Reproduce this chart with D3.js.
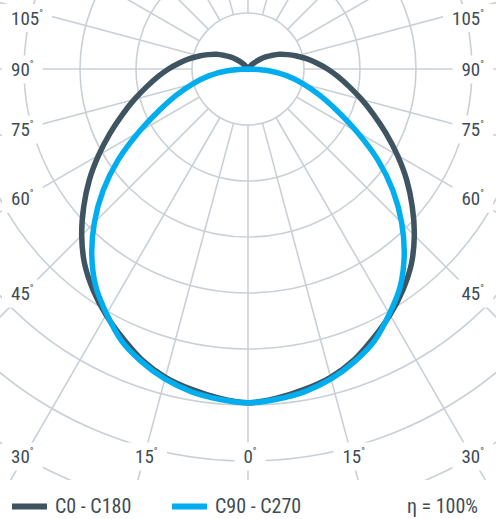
<!DOCTYPE html>
<html>
<head>
<meta charset="utf-8">
<script src="https://cdn.jsdelivr.net/npm/d3@7"></script>
<style>
  body { margin: 0; background: #fff; }
  text { font-family: "Liberation Sans Narrow", "Roboto Condensed", Roboto, sans-serif; fill: #3e4c56; }
</style>
</head>
<body>
<div id="chart"></div>
<script>
// ----------------------------DATA-------------------------------//
const gammaAngles = [0, 5, 10, 15, 20, 25, 30, 35, 40, 45, 50, 55, 60, 65, 70, 75, 80, 85, 90,
  95, 100, 105, 110, 115, 120, 125, 130, 135, 140, 145, 150, 155, 160, 165, 170, 175, 180];
// cd/klm
const c0c180 = [298, 295, 290.5, 285, 276.5, 265, 253.5, 241, 227, 210, 191.5, 173, 154, 136, 119.5, 105, 92, 81, 71,
  61.5, 53, 45, 37.5, 31, 24, 18.5, 12.5, 7.5, 3.5, 0, 0, 0, 0, 0, 0, 0, 0];
const c90c270 = [298, 296, 292.5, 286.5, 278, 267.5, 252.5, 237, 217, 194, 169, 141.5, 112.5, 87.5, 68, 51, 35.5, 18.5, 0,
  0, 0, 0, 0, 0, 0, 0, 0, 0, 0, 0, 0, 0, 0, 0, 0, 0, 0];
const ringValues = [50, 100, 150, 200, 250, 300, 350, 400, 450];
const tickAngles = [0, 15, 30, 45, 60, 75, 90, 105];
const seriesNames = ['C0 - C180', 'C90 - C270'];
const efficiencyLabel = 'η = 100%';

const width = 496;
const height = 519;
const cx = 248;
const cy = 69;
const plotBottom = 480;
const darkColor = '#3e5460';
const blueColor = '#00aeef';
const gridColor = '#c9d1d7';

const svg = d3.select('#chart').append('svg')
  .attr('width', width)
  .attr('height', height);

svg.append('clipPath').attr('id', 'plotClip')
  .append('rect')
  .attr('x', 0).attr('y', 0)
  .attr('width', width).attr('height', plotBottom);

// ----------------------------SCALES-----------------------------//
const rScale = d3.scaleLinear().domain([0, 50]).range([0, 56]);
const rad = d => d * Math.PI / 180;

const plot = svg.append('g')
  .attr('clip-path', 'url(#plotClip)');

const g = plot.append('g')
  .attr('transform', `translate(${cx},${cy})`);

// -----------------------------GRID------------------------------//
g.selectAll('circle.ring')
  .data(ringValues)
  .enter()
  .append('circle')
  .attr('class', 'ring')
  .attr('r', d => rScale(d))
  .attr('fill', 'none')
  .attr('stroke', gridColor)
  .attr('stroke-width', 1.6);

g.selectAll('line.ray')
  .data(d3.range(0, 360, 15))
  .enter()
  .append('line')
  .attr('class', 'ray')
  .attr('x1', d => rScale(50) * Math.sin(rad(d)))
  .attr('y1', d => rScale(50) * Math.cos(rad(d)))
  .attr('x2', d => rScale(600) * Math.sin(rad(d)))
  .attr('y2', d => rScale(600) * Math.cos(rad(d)))
  .attr('stroke', gridColor)
  .attr('stroke-width', 1.6);

// ----------------------------LABELS-----------------------------//
const sideDx = 224;
const labelTop = 17.5;
const labelBottom = 456;
const labelData = [];
tickAngles.forEach(a => {
  [-1, 1].forEach(side => {
    if (a === 0 && side === 1) return;
    let y = a === 0 ? labelBottom : cy + sideDx / Math.tan(rad(a));
    let kind = 'side';
    if (a < 30) {
      kind = 'bottom';
      y = labelBottom;
    }
    y = Math.max(labelTop, Math.min(labelBottom, y));
    const x = kind === 'bottom' ? cx + side * (labelBottom - cy) * Math.tan(rad(a)) : (side < 0 ? 11 : 484);
    labelData.push({ a, side, x, y, kind });
  });
});

const labels = svg.append('g').selectAll('g.lab')
  .data(labelData)
  .enter()
  .append('g')
  .attr('class', 'lab');

const labelText = labels.append('text')
  .attr('x', d => d.kind === 'bottom' ? d.x + 2 : d.x)
  .attr('y', d => d.y + 7)
  .attr('text-anchor', d => d.kind === 'bottom' ? 'middle' : (d.side < 0 ? 'start' : 'end'))
  .style('font-size', '19px');
labelText.append('tspan').text(d => d.a);
labelText.append('tspan')
  .attr('dy', -8)
  .style('font-size', '10px')
  .text('°');

labels.each(function () {
  const grp = d3.select(this);
  const bb = grp.select('text').node().getBBox();
  grp.insert('rect', 'text')
    .attr('x', bb.x - 9)
    .attr('y', bb.y + bb.height / 2 - 14)
    .attr('width', bb.width + 18)
    .attr('height', 28)
    .attr('fill', '#fff');
});

// ----------------------------LINES------------------------------//
// path runs from gamma 180 (up) down the right side to 0, then up the left side to -180
const toPoints = values => {
  const right = gammaAngles.map((a, i) => ({ a, v: values[i] }));
  const left = right.slice(1).map(d => ({ a: -d.a, v: d.v }));
  return right.slice().reverse().concat(left);
};

const line = d3.lineRadial()
  .angle(d => Math.PI - rad(d.a))
  .radius(d => rScale(d.v))
  .curve(d3.curveCatmullRom.alpha(0.5));

const curves = [
  { values: c0c180, color: darkColor },
  { values: c90c270, color: blueColor },
];

g.selectAll('path.curve')
  .data(curves)
  .enter()
  .append('path')
  .attr('class', 'curve')
  .attr('d', d => line(toPoints(d.values)))
  .attr('fill', 'none')
  .attr('stroke', d => d.color)
  .attr('stroke-width', 5.5)
  .attr('stroke-linejoin', 'round');

// ----------------------------LEGEND-----------------------------//
const legend = svg.append('g');
const legendX = [12, 172];
seriesNames.forEach((name, i) => {
  legend.append('line')
    .attr('x1', legendX[i]).attr('x2', legendX[i] + 35)
    .attr('y1', 506.5).attr('y2', 506.5)
    .attr('stroke', curves[i].color)
    .attr('stroke-width', 6);
  legend.append('text')
    .attr('x', legendX[i] + 43)
    .attr('y', 513)
    .style('font-size', '20px')
    .text(name);
});
legend.append('text')
  .attr('x', 478)
  .attr('y', 513)
  .attr('text-anchor', 'end')
  .style('font-size', '20px')
  .text(efficiencyLabel);
</script>
</body>
</html>
